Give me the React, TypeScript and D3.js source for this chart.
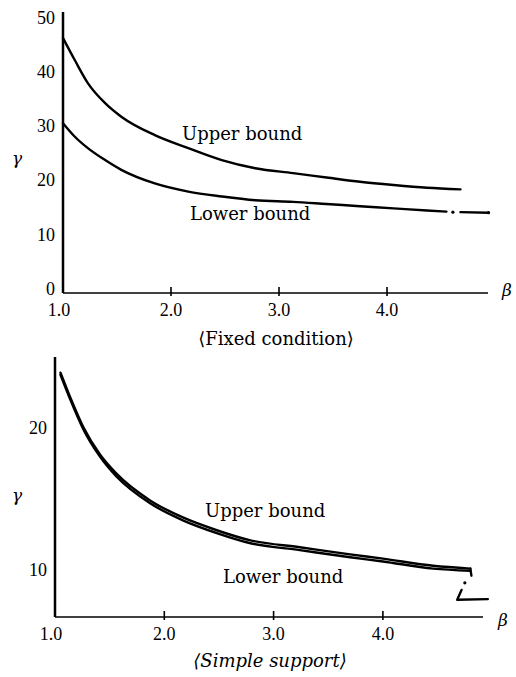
import React from 'react';
import * as d3 from 'd3';

// fixed condition (top chart)
const fixedBeta = [1.0, 1.11, 1.23, 1.39, 1.54, 1.85, 2.16, 2.47, 2.78, 3.13, 3.44, 3.75, 4.06, 4.37, 4.68];
const fixedUpper = [46.2, 42.1, 37.9, 34.2, 31.7, 28.3, 25.9, 23.7, 22.2, 21.3, 20.5, 19.7, 19.1, 18.6, 18.3];
const fixedLowerBeta = [1.0, 1.11, 1.23, 1.39, 1.54, 1.85, 2.16, 2.47, 2.78, 3.13, 3.44, 3.75, 4.06, 4.37, 4.55];
const fixedLower = [30.5, 28.0, 25.9, 23.7, 21.9, 19.4, 17.9, 17.0, 16.3, 16.0, 15.6, 15.2, 14.8, 14.4, 14.2];
const fixedTailBeta = [4.68, 4.94];
const fixedTail = [14.1, 14.0];
const fixedDot = [4.61, 14.1];

// simple support (bottom chart)
const simpleBeta = [1.05, 1.14, 1.26, 1.41, 1.56, 1.87, 2.17, 2.48, 2.78, 3.24, 3.70, 4.0, 4.46, 4.80];
const simpleUpper = [23.9, 22.15, 20.05, 18.15, 16.8, 14.9, 13.7, 12.8, 12.1, 11.6, 11.1, 10.8, 10.3, 10.1];
const simpleLower = [23.75, 22.0, 19.9, 18.0, 16.6, 14.7, 13.5, 12.6, 11.9, 11.4, 10.9, 10.6, 10.1, 9.95];
const simpleHookBeta = [4.80, 4.81];
const simpleHook = [10.1, 9.6];
const simpleTailBeta = [4.72, 4.68, 4.96];
const simpleTail = [8.6, 7.9, 7.95];
const simpleDot = [4.75, 9.1];

const xTicks = [1.0, 2.0, 3.0, 4.0];
const fixedYTicks = [0, 10, 20, 30, 40, 50];
const simpleYTicks = [10, 20];

const serif = 'DejaVu Serif, Liberation Serif, serif';
const numFont = 'Liberation Serif, DejaVu Serif, serif';

const zip = (xs: number[], ys: number[]) => xs.map((x, i) => [x, ys[i]] as [number, number]);

function Panel({ x, y, yTicks, curves, straight, dots, labels, caption, captionItalic, gammaY, betaPos }: any) {
  const smooth = d3.line<[number, number]>().x(d => x(d[0])).y(d => y(d[1])).curve(d3.curveMonotoneX);
  const lin = d3.line<[number, number]>().x(d => x(d[0])).y(d => y(d[1]));
  const [x0, x1] = x.range();
  const [y0, y1] = y.range();
  return (
    <g>
      {/* axes */}
      <line x1={x0} x2={x0} y1={y0} y2={y1} stroke="#000" strokeWidth={2.5} />
      <line x1={x0} x2={x1} y1={y0} y2={y0} stroke="#000" strokeWidth={1.6} />
      {xTicks.slice(1).map(t => (
        <line key={t} x1={x(t)} x2={x(t)} y1={y0 - 6} y2={y0 + 3} stroke="#000" strokeWidth={1.6} />
      ))}
      {xTicks.map(t => (
        <text key={t} x={x(t) - (t === 1 ? 4 : 0)} y={y0 + 23} textAnchor="middle"
          fontFamily={numFont} fontSize={18}>
          {d3.format('.1f')(t)}
        </text>
      ))}
      {yTicks.map((t: number) => (
        <text key={t} x={x0 - 8} y={y(t)} dy="0.35em" textAnchor="end" fontFamily={numFont} fontSize={18}>
          {t}
        </text>
      ))}
      <text x={17} y={gammaY} textAnchor="middle" fontFamily={serif} fontStyle="italic" fontSize={17}>γ</text>
      <text x={betaPos[0]} y={betaPos[1]} textAnchor="middle" fontFamily={serif} fontStyle="italic" fontSize={17}>β</text>
      {/* curves */}
      {curves.map((c: [number, number][], i: number) => (
        <path key={i} d={smooth(c) || ''} fill="none" stroke="#000" strokeWidth={2.4} strokeLinecap="round" />
      ))}
      {straight.map((c: [number, number][], i: number) => (
        <path key={i} d={lin(c) || ''} fill="none" stroke="#000" strokeWidth={2.4} strokeLinecap="round" strokeLinejoin="round" />
      ))}
      {dots.map((d: number[], i: number) => (
        <circle key={i} cx={x(d[0])} cy={y(d[1])} r={1.6} fill="#000" />
      ))}
      {labels.map((l: any) => (
        <text key={l.text} x={l.x} y={l.y} fontFamily={serif} fontSize={18}>{l.text}</text>
      ))}
      <text x={caption.x} y={caption.y} textAnchor="middle" fontFamily={serif} fontSize={18}
        fontStyle={captionItalic ? 'italic' : 'normal'}>
        {caption.text}
      </text>
    </g>
  );
}

export default function App() {
  const w = 516, h = 677;

  const xTop = d3.scaleLinear().domain([1, 4.935]).range([63, 488]);
  const yTop = d3.scaleLinear().domain([-0.8, 51]).range([293, 12]);

  const xBot = d3.scaleLinear().domain([1, 4.916]).range([55, 483]);
  const yBot = d3.scaleLinear().domain([6.69, 25]).range([617, 357]);

  return (
    <div style={{ position: 'absolute', left: 0, top: 0 }}>
      <svg width={w} height={h} style={{ display: 'block', background: '#fff' }}>
        <Panel
          x={xTop}
          y={yTop}
          yTicks={fixedYTicks}
          curves={[zip(fixedBeta, fixedUpper), zip(fixedLowerBeta, fixedLower)]}
          straight={[zip(fixedTailBeta, fixedTail)]}
          dots={[fixedDot, [fixedTailBeta[1], fixedTail[1]]]}
          labels={[{ text: 'Upper bound', x: 182, y: 140 }, { text: 'Lower bound', x: 190, y: 220 }]}
          caption={{ text: '⟨Fixed condition⟩', x: 276, y: 345 }}
          gammaY={164}
          betaPos={[507, 296]}
        />
        <Panel
          x={xBot}
          y={yBot}
          yTicks={simpleYTicks}
          curves={[zip(simpleBeta, simpleUpper), zip(simpleBeta, simpleLower)]}
          straight={[zip(simpleHookBeta, simpleHook), zip(simpleTailBeta, simpleTail)]}
          dots={[simpleDot]}
          labels={[{ text: 'Upper bound', x: 205, y: 517 }, { text: 'Lower bound', x: 223, y: 583 }]}
          caption={{ text: '⟨Simple support⟩', x: 270, y: 667 }}
          captionItalic
          gammaY={501}
          betaPos={[503, 626]}
        />
      </svg>
    </div>
  );
}
